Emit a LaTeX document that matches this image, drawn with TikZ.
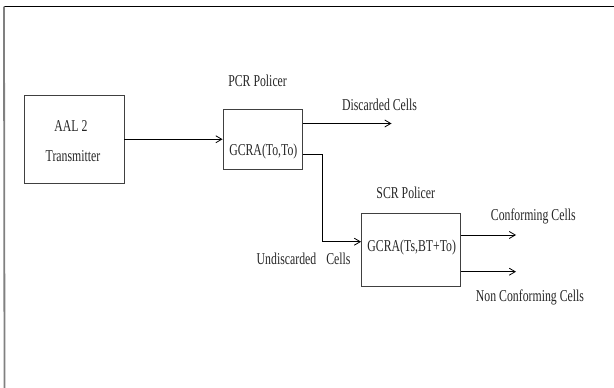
\documentclass[tikz,border=0pt]{standalone}
\usepackage{fontspec}
\setmainfont{Liberation Serif}[FakeStretch=0.71]
\usetikzlibrary{arrows.meta}
\begin{document}
\begin{tikzpicture}[x=1pt,y=-1pt,
  box/.style={draw=black!75, line width=0.9pt, inner sep=0pt},
  lbl/.style={inner sep=0pt, text=black!85, font=\fontsize{16.6}{18}\selectfont},
  flow/.style={draw=black, line width=0.8pt, -{Straight Barb[length=6pt,width=7pt]}},
  wire/.style={draw=black, line width=0.8pt}]
\useasboundingbox (0,0) rectangle (614,388);
% frame
\coordinate (ftl) at (4,6.5);
\coordinate (ftr) at (614,6.5);
\coordinate (fbl) at (4.5,388);
\draw[black, line width=1.5pt] (ftl) -- (ftr);
\draw[black!50, line width=1.8pt] (ftl) -- (fbl);
% boxes
\node[box, minimum width=99.3pt, minimum height=88.5pt] (aal) at (74.35,139.25) {};
\node[box, minimum width=79.5pt, minimum height=59.8pt] (pcr) at (262.75,139.4) {};
\node[box, minimum width=99.2pt, minimum height=73.7pt] (scr) at (411.1,249.85) {};
% labels
\node[lbl, anchor=base] (aaltxt) at (71,131.7) {AAL 2};
\node[lbl, anchor=base] (trtxt) at (73,161.7) {Transmitter};
\node[lbl, anchor=base] (pcrtitle) at (257.6,86.7) {PCR Policer};
\node[lbl, anchor=base] (pcrtxt) at (263.3,155) {GCRA(To,To)};
\node[lbl, anchor=base] (disctxt) at (379.6,110) {Discarded Cells};
\node[lbl, anchor=base] (scrtitle) at (405.8,198.3) {SCR Policer};
\node[lbl, anchor=base] (scrtxt) at (411.7,251) {GCRA(Ts,BT+To)};
\node[lbl, anchor=base east] (undtxt) at (350.7,264.3) {Undiscarded\hspace{10pt}Cells};
\node[lbl, anchor=base] (conftxt) at (533.3,220.7) {Conforming Cells};
\node[lbl, anchor=base] (nonctxt) at (530,301.7) {Non Conforming Cells};
% connectors
\coordinate (disc) at (391.5,123.5);
\coordinate (bend) at (322,154.5);
\coordinate (bend2) at (322,241.7);
\coordinate (conf) at (516,235);
\coordinate (nonc) at (516,271.7);
\draw[flow] (aal.east) -- (aal.east -| pcr.west);
\draw[flow] (pcr.east |- disc) -- (disc);
\draw[flow] (pcr.east |- bend) -- (bend) -- (bend2) -- (bend2 -| scr.west);
\draw[flow] (scr.east |- conf) -- (conf);
\draw[flow] (scr.east |- nonc) -- (nonc);
\end{tikzpicture}
\end{document}
